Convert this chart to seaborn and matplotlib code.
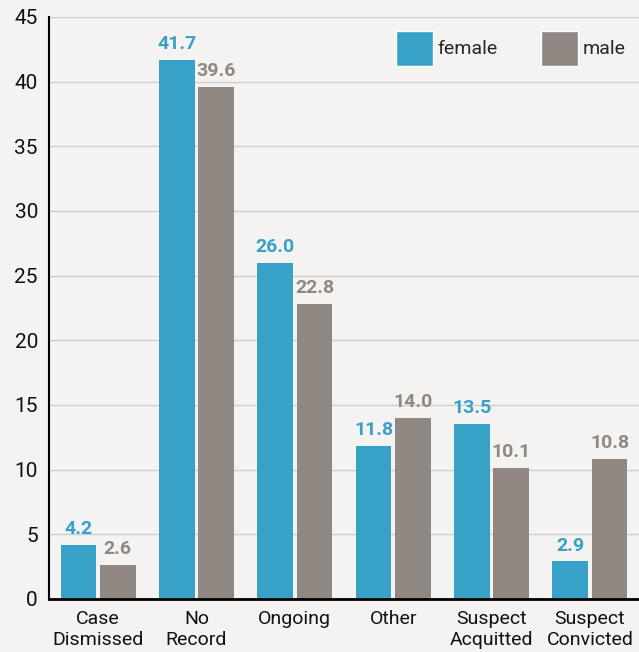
import pandas as pd
import seaborn as sns
import matplotlib.pyplot as plt
from matplotlib.patches import Patch

# outcome categories and shares per gender
categories = ["Case\nDismissed", "No\nRecord", "Ongoing", "Other", "Suspect\nAcquitted", "Suspect\nConvicted"]
female = [4.2, 41.7, 26.0, 11.8, 13.5, 2.9]
male = [2.6, 39.6, 22.8, 14.0, 10.1, 10.8]
genders = ["female", "male"]
colors = {"female": "#37a1c7", "male": "#8f8883"}
bg = "#f4f3f1"

df = pd.DataFrame({
    "category": categories * 2,
    "value": female + male,
    "gender": ["female"] * len(categories) + ["male"] * len(categories),
})

sns.set_style("white")
plt.rcParams["font.family"] = ["Roboto", "DejaVu Sans"]

fig = plt.figure(figsize=(6.39, 6.52), dpi=100, facecolor=bg)
ax = fig.add_axes([49 / 639, 1 - 599 / 652, 1 - 49 / 639, 582 / 652])
ax.set_facecolor(bg)

sns.barplot(data=df, x="category", y="value", hue="gender", palette=colors,
            width=0.8, gap=0.1, order=categories, hue_order=genders,
            saturation=1, linewidth=0, ax=ax, legend=False)

# value labels
for cont, g in zip(ax.containers, genders):
    ax.bar_label(cont, fmt="%.1f", padding=5, color=colors[g],
                 fontsize=14, fontweight="bold")

ax.set_ylim(0, 45)
ax.set_xlim(-0.5, 5.5)
ax.set_yticks(range(0, 46, 5))
ax.grid(axis="y", color="#cfcfcf", linewidth=1)
ax.set_axisbelow(True)
for s in ["top", "right"]:
    ax.spines[s].set_visible(False)
ax.spines["left"].set_color("black")
ax.spines["left"].set_linewidth(1.5)
ax.spines["bottom"].set_color("black")
ax.spines["bottom"].set_linewidth(2)
ax.tick_params(axis="y", length=0, labelsize=15, colors="#111111", pad=8)
ax.tick_params(axis="x", length=0, labelsize=14, colors="#111111", pad=8)
ax.set_xlabel("")
ax.set_ylabel("")

handles = [Patch(facecolor=colors[g], label=g) for g in genders]
ax.legend(handles=handles, loc="upper right", ncol=2, frameon=False,
          fontsize=14, handlelength=1.9, handleheight=2.4, handletextpad=0.25,
          columnspacing=2.2, borderaxespad=0.3, bbox_to_anchor=(1.0, 1.0))

fig.savefig("out.png", dpi=100, facecolor=bg)
